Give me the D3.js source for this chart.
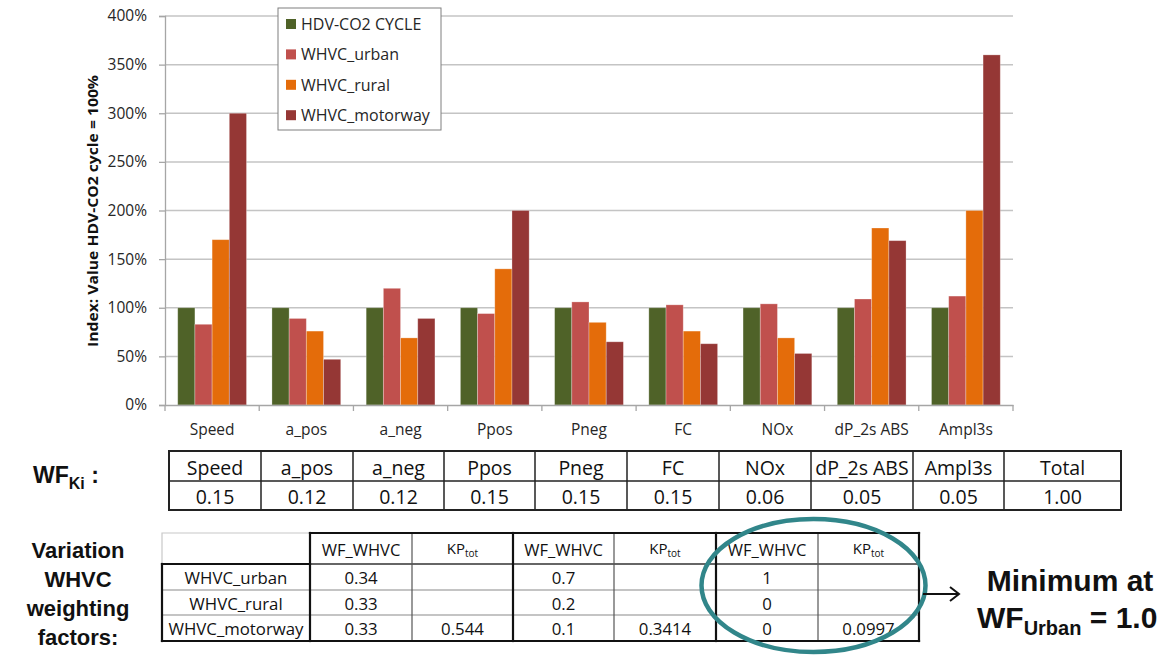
<!DOCTYPE html>
<html><head><meta charset="utf-8">
<script src="https://cdn.jsdelivr.net/npm/d3@7"></script>
<style>body{margin:0;background:#fff} svg{display:block}</style>
</head><body>
<svg id="c" width="1176" height="659"></svg>
<script>
// ---------- data ----------
const categories = ["Speed","a_pos","a_neg","Ppos","Pneg","FC","NOx","dP_2s ABS","Ampl3s"];
const seriesNames = ["HDV-CO2 CYCLE","WHVC_urban","WHVC_rural","WHVC_motorway"];
const hdvCo2Cycle  = [100,100,100,100,100,100,100,100,100];
const whvcUrban    = [83, 89, 120, 94, 106, 103, 104, 109, 112];
const whvcRural    = [170, 76, 69, 140, 85, 76, 69, 182, 200];
const whvcMotorway = [300, 47, 89, 200, 65, 63, 53, 169, 360];
const yTickValues = [0,50,100,150,200,250,300,350,400];
const yTitle = "Index: Value HDV-CO2 cycle = 100%";

const wfHeaders = ["Speed","a_pos","a_neg","Ppos","Pneg","FC","NOx","dP_2s ABS","Ampl3s","Total"];
const wfValues  = ["0.15","0.12","0.12","0.15","0.15","0.15","0.06","0.05","0.05","1.00"];

const variationRowNames = ["WHVC_urban","WHVC_rural","WHVC_motorway"];
const variationWF1 = ["0.34","0.33","0.33"];
const variationKP1 = ["","","0.544"];
const variationWF2 = ["0.7","0.2","0.1"];
const variationKP2 = ["","","0.3414"];
const variationWF3 = ["1","0","0"];
const variationKP3 = ["","","0.0997"];

// ---------- styles ----------
const colors = ["#4F6228","#C0504D","#E46C0A","#953735"];
const FONT = "'Open Sans', 'Noto Sans', sans-serif";
const BOLD = "'Liberation Sans', Arial, sans-serif";

const svg = d3.select("#c");
const seriesValues = [hdvCo2Cycle, whvcUrban, whvcRural, whvcMotorway];

// ---------- chart ----------
const plot = {left:165, right:1013, top:16, bottom:405};
const y = d3.scaleLinear().domain([0,400]).range([plot.bottom, plot.top]);
const x = d3.scaleBand().domain(categories).range([plot.left, plot.right]);
const x1 = d3.scaleBand().domain(seriesNames).range([0, x.bandwidth()]).paddingOuter(0.74);

// gridlines
svg.append("g").selectAll("line").data(yTickValues.filter(d=>d>0)).join("line")
  .attr("x1", plot.left).attr("x2", plot.right)
  .attr("y1", d=>y(d)).attr("y2", d=>y(d))
  .attr("stroke", "#c4c4c4").attr("stroke-width", 1.5);

// bars
const groups = svg.append("g").selectAll("g").data(categories).join("g")
  .attr("transform", c=>`translate(${x(c)},0)`);
groups.selectAll("rect").data((c,i)=>seriesNames.map((s,j)=>({s, v: seriesValues[j][i], j})))
  .join("rect")
  .attr("x", d=>x1(d.s)).attr("width", x1.bandwidth())
  .attr("y", d=>y(d.v)).attr("height", d=>y(0)-y(d.v))
  .attr("fill", d=>colors[d.j])
  .attr("stroke", "rgba(255,255,255,0.35)").attr("stroke-width", 0.8);

// y axis
const yAxis = svg.append("g").attr("transform", `translate(${plot.left},0)`)
  .call(d3.axisLeft(y).tickValues(yTickValues).tickFormat(d=>d+"%").tickSize(6).tickPadding(12));
yAxis.select(".domain").attr("stroke","#a6a6a6").attr("stroke-width",1.3);
yAxis.selectAll(".tick line").attr("stroke","#a6a6a6").attr("stroke-width",1.3);
yAxis.selectAll("text").attr("font-family", FONT).attr("font-size", 15.5).attr("fill","#262626");

// x axis
const xAxis = svg.append("g").attr("transform", `translate(0,${plot.bottom})`)
  .call(d3.axisBottom(x).tickSize(0).tickPadding(19));
xAxis.select(".domain").attr("stroke","#a6a6a6").attr("stroke-width",1.3);
xAxis.selectAll("text").attr("font-family", FONT).attr("font-size", 15.5).attr("fill","#262626");
const edges = categories.map(c=>x(c)).concat([x(categories[categories.length-1]) + x.bandwidth()]);
xAxis.append("g").selectAll("line").data(edges).join("line")
  .attr("x1", d=>d).attr("x2", d=>d).attr("y1", 0).attr("y2", 6)
  .attr("stroke","#a6a6a6").attr("stroke-width",1.3);

// y title
svg.append("text").attr("transform", `translate(98,211) rotate(-90)`)
  .attr("text-anchor","middle").attr("font-family", FONT).attr("font-weight", 700)
  .attr("font-size", 15).attr("textLength", 272).attr("lengthAdjust","spacingAndGlyphs")
  .attr("fill","#111").text(yTitle);

// legend
const leg = svg.append("g");
leg.append("rect").attr("x",278).attr("y",8).attr("width",163).attr("height",122)
  .attr("fill","#fff").attr("stroke","#7f7f7f").attr("stroke-width",1);
const legItems = leg.selectAll("g.li").data(seriesNames).join("g").attr("class","li")
  .attr("transform",(d,i)=>`translate(286,${24 + i*30.4})`);
legItems.append("rect").attr("x",0).attr("y",-5).attr("width",10).attr("height",10)
  .attr("fill",(d,i)=>colors[i]);
legItems.append("text").attr("x",15).attr("y",6).attr("font-family",FONT).attr("font-size",16)
  .attr("fill","#262626").text(d=>d);

// ---------- WF_Ki table ----------
const t1x = [169,261,353,444,535,627,719,811,913,1004,1121];
const t1y = [451,481,510];
const t1 = svg.append("g");
t1.append("g").selectAll("text").data(wfHeaders).join("text")
  .attr("x",(d,i)=>(t1x[i]+t1x[i+1])/2).attr("y",475).attr("text-anchor","middle")
  .attr("font-family",FONT).attr("font-size",19.5).attr("fill","#111").text(d=>d);
t1.append("g").selectAll("text").data(wfValues).join("text")
  .attr("x",(d,i)=>(t1x[i]+t1x[i+1])/2).attr("y",504).attr("text-anchor","middle")
  .attr("font-family",FONT).attr("font-size",19.5).attr("fill","#111").text(d=>d);
t1.append("g").selectAll("line").data(t1x).join("line")
  .attr("x1",d=>d).attr("x2",d=>d).attr("y1",t1y[0]).attr("y2",t1y[2])
  .attr("stroke","#222").attr("stroke-width",(d,i)=> (i===0||i===t1x.length-1)?2:1.5);
t1.append("g").selectAll("line").data(t1y).join("line")
  .attr("x1",t1x[0]-1).attr("x2",t1x[t1x.length-1]+1).attr("y1",d=>d).attr("y2",d=>d)
  .attr("stroke","#222").attr("stroke-width",(d,i)=> i===1?1.5:2);

// ---------- Variation table ----------
const t2x = [162,310,412,513,614,716,818,919];
const t2y = [533,564,590,615,641];
const t2 = svg.append("g");
const headerKinds = ["WF","KP","WF","KP","WF","KP"];
const cols = [variationWF1, variationKP1, variationWF2, variationKP2, variationWF3, variationKP3];
// header
headerKinds.forEach((k,i)=>{
  const cx = (t2x[i+1]+t2x[i+2])/2;
  if (k==="WF") {
    t2.append("text").attr("x",cx).attr("y",556).attr("text-anchor","middle")
      .attr("font-family",FONT).attr("font-size",16.5).attr("fill","#111").text("WF_WHVC");
  } else {
    const t = t2.append("text").attr("x",cx).attr("y",554).attr("text-anchor","middle")
      .attr("font-family",FONT).attr("font-size",15).attr("fill","#111");
    t.append("tspan").text("KP");
    t.append("tspan").attr("font-size",10).attr("dy",3).text("tot");
  }
});
// row names
t2.append("g").selectAll("text").data(variationRowNames).join("text")
  .attr("x",(t2x[0]+t2x[1])/2).attr("y",(d,i)=>[584,609.5,635][i]).attr("text-anchor","middle")
  .attr("font-family",FONT).attr("font-size",16.8).attr("fill","#111").text(d=>d);
cols.forEach((col,ci)=>{
  t2.append("g").selectAll("text").data(col).join("text")
    .attr("x",(t2x[ci+1]+t2x[ci+2])/2).attr("y",(d,i)=>[584,609.5,635][i]).attr("text-anchor","middle")
    .attr("font-family",FONT).attr("font-size",16.8).attr("fill","#111").text(d=>d);
});
// thin gray lines
t2.append("g").selectAll("line").data([t2y[2],t2y[3]]).join("line")
  .attr("x1",t2x[0]).attr("x2",t2x[7]).attr("y1",d=>d).attr("y2",d=>d)
  .attr("stroke","#8a8a8a").attr("stroke-width",1.2);
t2.append("line").attr("x1",t2x[1]).attr("x2",t2x[7]).attr("y1",t2y[1]).attr("y2",t2y[1])
  .attr("stroke","#333").attr("stroke-width",1.3);
t2.append("g").selectAll("line").data([t2x[2],t2x[4],t2x[6]]).join("line")
  .attr("x1",d=>d).attr("x2",d=>d).attr("y1",t2y[0]).attr("y2",t2y[4])
  .attr("stroke","#555").attr("stroke-width",1.2);
// light border of empty corner cell
t2.append("path").attr("d",`M${t2x[0]},${t2y[1]}V${t2y[0]}H${t2x[1]}`)
  .attr("fill","none").attr("stroke","#c8c8c8").attr("stroke-width",1.2);
// thick lines
const thick = [
  [t2x[1],t2y[0],t2x[7],t2y[0]],
  [t2x[0],t2y[1],t2x[1],t2y[1]],
  [t2x[0],t2y[4],t2x[7],t2y[4]],
  [t2x[0],t2y[1],t2x[0],t2y[4]],
  [t2x[1],t2y[0],t2x[1],t2y[4]],
  [t2x[3],t2y[0],t2x[3],t2y[4]],
  [t2x[5],t2y[0],t2x[5],t2y[4]],
  [t2x[7],t2y[0],t2x[7],t2y[4]]
];
t2.append("g").selectAll("line").data(thick).join("line")
  .attr("x1",d=>d[0]).attr("y1",d=>d[1]).attr("x2",d=>d[2]).attr("y2",d=>d[3])
  .attr("stroke","#111").attr("stroke-width",2.2).attr("stroke-linecap","square");

// ellipse highlight
svg.append("ellipse").attr("cx",813.5).attr("cy",585.5).attr("rx",112).attr("ry",66.5)
  .attr("fill","none").attr("stroke","#31868A").attr("stroke-width",4.5);

// arrow
svg.append("line").attr("x1",923).attr("x2",958).attr("y1",594).attr("y2",594)
  .attr("stroke","#111").attr("stroke-width",2);
svg.append("path").attr("d","M950,587L959,594L950,601").attr("fill","none")
  .attr("stroke","#111").attr("stroke-width",2);

// annotation texts
svg.append("text").attr("x",1070).attr("y",591).attr("text-anchor","middle")
  .attr("font-family",BOLD).attr("font-weight",700).attr("font-size",30).attr("fill","#111")
  .text("Minimum at");
const wfu = svg.append("text").attr("x",977).attr("y",628)
  .attr("font-family",BOLD).attr("font-weight",700).attr("font-size",30).attr("fill","#111");
wfu.append("tspan").text("WF");
wfu.append("tspan").attr("font-size",20).attr("dy",7).text("Urban");
wfu.append("tspan").attr("dy",-7).text(" = 1.0");

const wfk = svg.append("text").attr("x",33).attr("y",483)
  .attr("font-family",BOLD).attr("font-weight",700).attr("font-size",23).attr("fill","#111");
wfk.append("tspan").text("WF");
wfk.append("tspan").attr("font-size",16).attr("dy",6).text("Ki");
wfk.append("tspan").attr("dy",-6).text(" :");

svg.append("g").selectAll("text").data(["Variation","WHVC","weighting","factors:"]).join("text")
  .attr("x",78).attr("y",(d,i)=>558+i*29).attr("text-anchor","middle")
  .attr("font-family",BOLD).attr("font-weight",700).attr("font-size",22).attr("fill","#111")
  .text(d=>d);
</script>
</body></html>
